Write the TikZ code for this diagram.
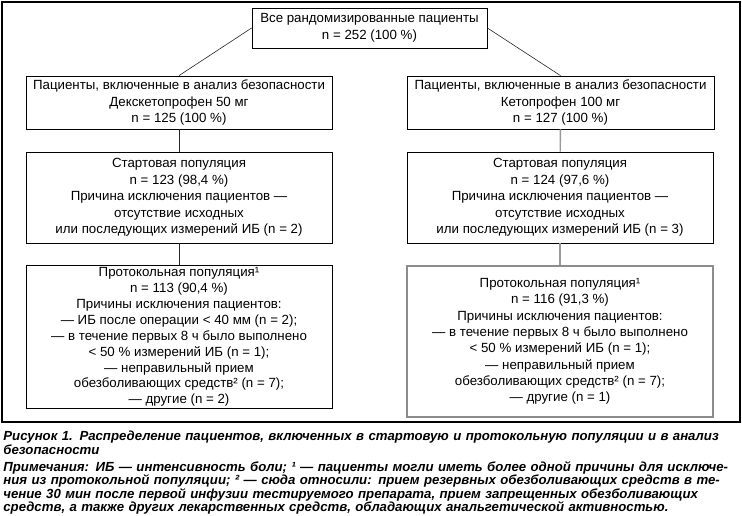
\documentclass[tikz,border=0pt]{standalone}
\usepackage{fontspec}
\setmainfont{Liberation Sans}
\usetikzlibrary{positioning}

\begin{document}
\begin{tikzpicture}[x=1pt, y=-1pt, line width=0.8pt,
    box/.style={draw, inner sep=0pt, align=center, minimum width=306pt,
      font=\fontsize{13.3}{16.5}\selectfont},
    greybox/.style={box, draw=black!45, line width=1.4pt},
    link/.style={line width=0.6pt, draw=black!85},
    greylink/.style={line width=1.4pt, draw=black!40},
    capt/.style={anchor=north west, inner sep=0pt, text width=738pt, align=left,
      font=\bfseries\itshape\fontsize{13.2}{13.5}\selectfont}]
  \useasboundingbox (0,0) rectangle (742,515);
  % frame
  \draw[line width=1.2pt] (2,2) rectangle (740,422);
  % all patients
  \node[box, minimum width=235pt, minimum height=40pt] (all) at (369.5,28)
    {Все рандомизированные пациенты\\n = 252 (100 \%)};
  % safety analysis
  \node[box, minimum height=53pt] (safL) at (179,102.5)
    {Пациенты, включенные в анализ безопасности\\Декскетопрофен 50 мг\\n = 125 (100 \%)};
  \node[box, minimum width=307pt, minimum height=53pt] (safR) at (560.5,102.5)
    {Пациенты, включенные в анализ безопасности\\Кетопрофен 100 мг\\n = 127 (100 \%)};
  % start population
  \node[box, minimum height=91pt] (startL) at (179,197.5)
    {Стартовая популяция\\n = 123 (98,4 \%)\\Причина исключения пациентов —\\
     отсутствие исходных\\или последующих измерений ИБ (n = 2)};
  \node[box, minimum height=91pt] (startR) at (560,197.5)
    {Стартовая популяция\\n = 124 (97,6 \%)\\Причина исключения пациентов —\\
     отсутствие исходных\\или последующих измерений ИБ (n = 3)};
  % per-protocol population
  \node[box, minimum height=143pt, font=\fontsize{13.3}{15.9}\selectfont] (ppL) at (179,337)
    {Протокольная популяция¹\\n = 113 (90,4 \%)\\
     Причины исключения пациентов:\\— ИБ после операции < 40 мм (n = 2);\\
     — в течение первых 8 ч было выполнено\\< 50 \% измерений ИБ (n = 1);\\
     — неправильный прием\\обезболивающих средств² (n = 7);\\
     — другие (n = 2)};
  \node[greybox, minimum height=151pt, font=\fontsize{13.3}{16.3}\selectfont] (ppR) at (560,341.5)
    {Протокольная популяция¹\\n = 116 (91,3 \%)\\
     Причины исключения пациентов:\\
     — в течение первых 8 ч было выполнено\\< 50 \% измерений ИБ (n = 1);\\
     — неправильный прием\\обезболивающих средств² (n = 7);\\
     — другие (n = 1)};
  % connectors
  \draw[link] (all.west) -- (safL.north);
  \draw[link] (all.east) -- (safR.north);
  \draw[link] (safL) -- (startL);
  \draw[link] (startL) -- (ppL);
  \draw[greylink] (safR) -- (startR);
  \draw[greylink] (startR) -- (ppR);
  % caption
  \node[capt] (cap) at (3,431)
    {Рисунок 1. Распределение пациентов, включенных в стартовую и протокольную популяции и в анализ\\безопасности};
  \node[capt, below=6pt of cap.south west, anchor=north west] (notes)
    {\makebox[\linewidth][s]{Примечания: ИБ — интенсивность боли; ¹ — пациенты могли иметь более одной причины для исключе-}\\
     \makebox[\linewidth][s]{ния из протокольной популяции; ² — сюда относили: прием резервных обезболивающих средств в те-}\\
     \makebox[\linewidth][s]{чение 30 мин после первой инфузии тестируемого препарата, прием запрещенных обезболивающих}\\
     средств, а также других лекарственных средств, обладающих анальгетической активностью.};
\end{tikzpicture}
\end{document}
